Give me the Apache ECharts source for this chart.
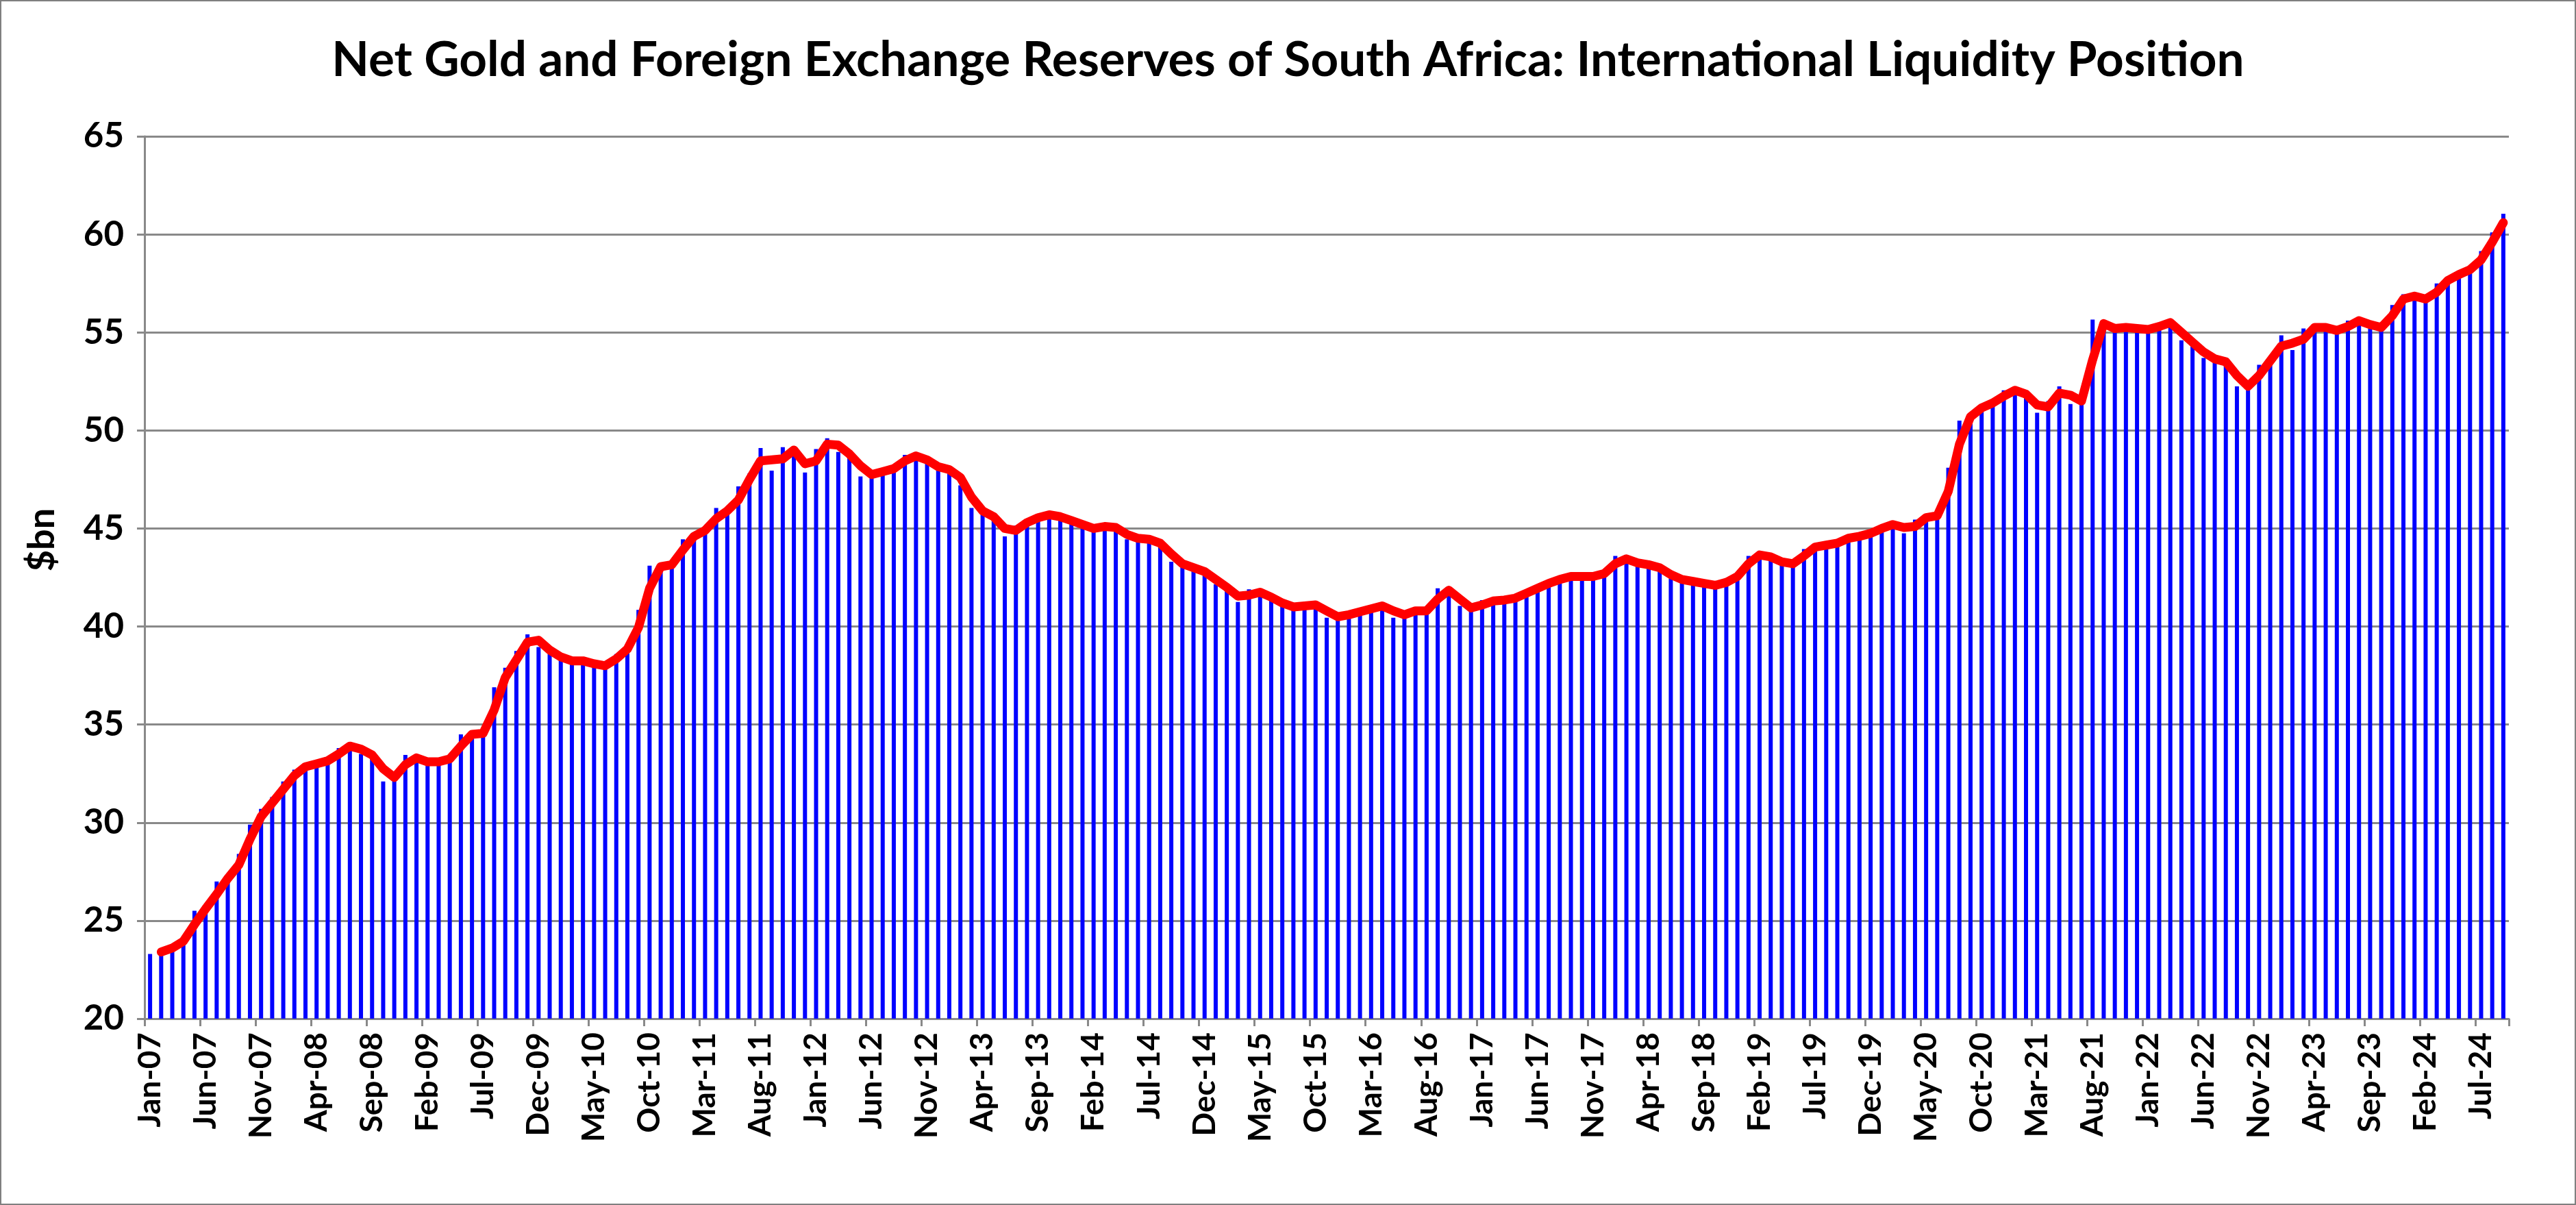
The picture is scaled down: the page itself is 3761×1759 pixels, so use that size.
<!DOCTYPE html>
<html>
<head>
<meta charset="utf-8">
<script src="https://cdn.jsdelivr.net/npm/echarts@6/dist/echarts.min.js"></script>
<style>
html,body{margin:0;padding:0;background:#fff;}
#chart{width:3761px;height:1759px;}
</style>
</head>
<body>
<div id="chart"></div>
<script>
// Month labels Jan-07 .. Sep-24
const monthNames = ['Jan','Feb','Mar','Apr','May','Jun','Jul','Aug','Sep','Oct','Nov','Dec'];
const categories = [];
for (let y = 2007; y <= 2024; y++) {
  for (let m = 0; m < 12; m++) {
    if (y === 2024 && m > 8) break;
    categories.push(monthNames[m] + '-' + String(y % 100).padStart(2, '0'));
  }
}

// Net gold and foreign exchange reserves ($bn), monthly
const reserves2007_2010 = [
  23.3, 23.5, 23.7, 24.15, 25.5, 25.7, 27.0, 27.3, 28.4, 29.9, 30.7, 31.3,
  32.1, 32.7, 32.95, 33.1, 33.2, 33.8, 34.0, 33.5, 33.4, 32.1, 32.5, 33.45,
  33.2, 33.0, 33.2, 33.3, 34.5, 34.5, 34.6, 36.9, 37.9, 38.75, 39.6, 38.95,
  38.6, 38.3, 38.2, 38.3, 37.95, 38.1, 38.6, 39.1, 40.85, 43.1, 43.0, 43.3
];
const reserves2011_2014 = [
  44.45, 44.8, 45.0, 46.05, 45.75, 47.15, 47.8, 49.1, 47.95, 49.15, 48.8, 47.85,
  49.05, 49.6, 48.9, 48.75, 47.65, 47.85, 47.95, 48.15, 48.75, 48.7, 48.35, 47.95,
  48.0, 47.2, 46.05, 45.75, 45.45, 44.6, 45.15, 45.45, 45.65, 45.7, 45.5, 45.35,
  45.0, 45.05, 45.2, 44.9, 44.45, 44.5, 44.4, 44.1, 43.3, 43.1, 42.95, 42.7
];
const reserves2015_2018 = [
  42.15, 41.85, 41.25, 41.9, 41.6, 41.45, 41.0, 41.0, 41.1, 41.1, 40.45, 40.5,
  40.7, 40.8, 41.0, 41.1, 40.45, 40.7, 40.85, 40.8, 41.95, 41.75, 41.05, 40.85,
  41.35, 41.3, 41.4, 41.5, 41.85, 42.1, 42.3, 42.5, 42.6, 42.55, 42.6, 42.75,
  43.6, 43.3, 43.2, 43.1, 42.85, 42.45, 42.3, 42.3, 42.15, 42.1, 42.35, 42.75
];
const reserves2019_2024 = [
  43.6, 43.7, 43.4, 43.2, 43.2, 43.95, 44.1, 44.2, 44.3, 44.65, 44.55, 44.9,
  45.1, 45.3, 44.75, 45.45, 45.6, 45.7, 48.1, 50.5, 50.9, 51.35, 51.4, 52.05,
  52.0, 51.7, 50.9, 51.5, 52.25, 51.35, 51.6, 55.65, 55.2, 55.2, 55.25, 55.15,
  55.1, 55.5, 55.45, 54.6, 54.35, 53.7, 53.6, 53.4, 52.25, 52.25, 53.35, 53.7,
  54.85, 54.1, 55.2, 55.3, 55.2, 55.0, 55.6, 55.6, 55.2, 55.3, 56.4, 56.95,
  56.75, 56.6, 57.5, 57.8, 58.1, 58.3, 59.15, 60.1, 61.05
];
const reserves = [].concat(reserves2007_2010, reserves2011_2014, reserves2015_2018, reserves2019_2024);

// Red trend line (2-month moving average as drawn)
const trend2007_2010 = [
  null, 23.4, 23.6, 23.95, 24.8, 25.6, 26.35, 27.15, 27.85, 29.15, 30.3, 31.0,
  31.7, 32.4, 32.85, 33.0, 33.15, 33.5, 33.9, 33.75, 33.45, 32.75, 32.3, 32.95,
  33.3, 33.1, 33.1, 33.25, 33.9, 34.5, 34.55, 35.75, 37.4, 38.3, 39.2, 39.3,
  38.8, 38.45, 38.25, 38.25, 38.1, 38.0, 38.35, 38.85, 39.95, 41.95, 43.05, 43.15
];
const trend2011_2014 = [
  43.9, 44.6, 44.9, 45.5, 45.9, 46.45, 47.5, 48.45, 48.5, 48.55, 49.0, 48.3,
  48.45, 49.3, 49.25, 48.8, 48.2, 47.75, 47.9, 48.05, 48.45, 48.7, 48.5, 48.15,
  48.0, 47.6, 46.6, 45.9, 45.6, 45.0, 44.9, 45.3, 45.55, 45.7, 45.6, 45.4,
  45.2, 45.0, 45.1, 45.05, 44.7, 44.5, 44.45, 44.25, 43.7, 43.2, 43.0, 42.8
];
const trend2015_2018 = [
  42.4, 42.0, 41.55, 41.6, 41.75, 41.5, 41.2, 41.0, 41.05, 41.1, 40.8, 40.5,
  40.6, 40.75, 40.9, 41.05, 40.8, 40.6, 40.8, 40.8, 41.4, 41.85, 41.4, 40.95,
  41.1, 41.3, 41.35, 41.45, 41.7, 41.95, 42.2, 42.4, 42.55, 42.55, 42.55, 42.7,
  43.2, 43.45, 43.25, 43.15, 43.0, 42.65, 42.4, 42.3, 42.2, 42.1, 42.25, 42.55
];
const trend2019_2024 = [
  43.2, 43.65, 43.55, 43.3, 43.2, 43.6, 44.05, 44.15, 44.25, 44.5, 44.6, 44.75,
  45.0, 45.2, 45.05, 45.1, 45.55, 45.65, 46.9, 49.3, 50.7, 51.15, 51.4, 51.75,
  52.05, 51.85, 51.3, 51.2, 51.9, 51.8, 51.5, 53.6, 55.45, 55.2, 55.25, 55.2,
  55.15, 55.3, 55.5, 55.0, 54.5, 54.0, 53.65, 53.5, 52.8, 52.25, 52.8, 53.55,
  54.3, 54.45, 54.65, 55.25, 55.25, 55.1, 55.3, 55.6, 55.4, 55.25, 55.85, 56.7,
  56.85, 56.7, 57.05, 57.65, 57.95, 58.2, 58.7, 59.6, 60.6
];
const trend = [].concat(trend2007_2010, trend2011_2014, trend2015_2018, trend2019_2024);

const yMin = 20, yMax = 65, yStep = 5;
const titleText = 'Net Gold and Foreign Exchange Reserves of South Africa: International Liquidity Position';
const yName = '$bn';

const chart = echarts.init(document.getElementById('chart'), null, {renderer: 'canvas'});
const font = 'Lato, "Open Sans", "Liberation Sans", sans-serif';
const gray = '#898989';

chart.setOption({
  animation: false,
  backgroundColor: '#ffffff',
  title: {
    text: titleText,
    left: 'center',
    top: 48,
    textStyle: {fontFamily: font, fontWeight: 'bold', fontSize: 71, color: '#000'}
  },
  graphic: [{
    type: 'rect',
    shape: {x: 1, y: 1, width: 3759, height: 1757},
    style: {fill: 'none', stroke: '#7f7f7f', lineWidth: 2},
    silent: true
  }],
  grid: {left: 211, right: 98, top: 199, bottom: 272, containLabel: false},
  xAxis: {
    type: 'category',
    data: categories,
    boundaryGap: true,
    axisLine: {show: true, lineStyle: {color: gray, width: 3}},
    axisTick: {show: true, interval: 4, length: 11, lineStyle: {color: gray, width: 3}},
    axisLabel: {
      interval: 4, rotate: 90, margin: 20,
      fontFamily: font, fontWeight: 'bold', fontSize: 46, color: '#000'
    },
    splitLine: {show: false}
  },
  yAxis: {
    type: 'value',
    min: yMin, max: yMax, interval: yStep,
    name: yName,
    nameLocation: 'middle',
    nameGap: 122,
    nameRotate: 90,
    nameTextStyle: {fontFamily: font, fontWeight: 'bold', fontSize: 54, color: '#000', padding: [0, 0, 0, 110]},
    axisLine: {show: true, lineStyle: {color: gray, width: 3}},
    axisTick: {show: true, length: 11, lineStyle: {color: gray, width: 3}},
    axisLabel: {fontFamily: font, fontWeight: 'bold', fontSize: 51, color: '#000', margin: 30},
    splitLine: {show: true, lineStyle: {color: gray, width: 3}}
  },
  series: [
    {
      type: 'bar',
      data: reserves,
      barWidth: 6,
      itemStyle: {color: '#0000FF'},
      z: 2
    },
    {
      type: 'line',
      data: trend,
      symbol: 'none',
      smooth: false,
      connectNulls: false,
      lineStyle: {color: '#FF0000', width: 13, cap: 'round', join: 'round'},
      z: 3
    }
  ]
});
</script>
</body>
</html>
